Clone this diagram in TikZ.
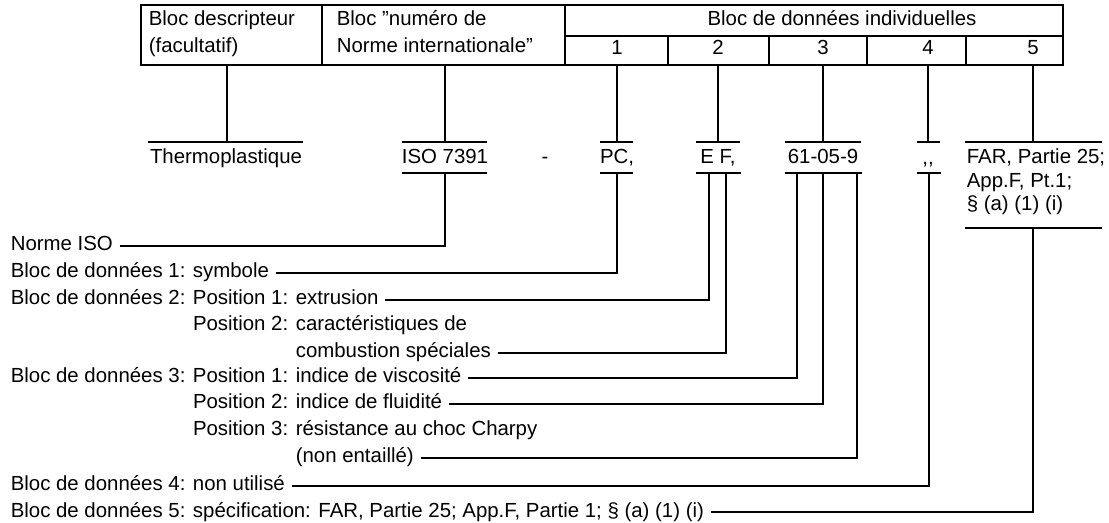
\documentclass[tikz,border=0pt]{standalone}
\usepackage{fontspec}
\setmainfont{Liberation Sans}
\usetikzlibrary{positioning, calc}

\begin{document}
\begin{tikzpicture}[
    x=0.5pt, y=-0.5pt,
    txt/.style={inner sep=0pt, text height=7pt, text depth=2pt,
                font=\fontsize{10.2}{11.5}\selectfont},
    lbl/.style={txt, anchor=west},
    farbox/.style={inner sep=0pt, anchor=north west, align=left,
                   font=\fontsize{10.2}{11.8}\selectfont},
    bar/.style={line width=0.9pt},
    line width=0.8pt,
]
\useasboundingbox (0,0) rectangle (1109,523);

% =================================================================
%  TABLE OF BLOCKS
% =================================================================
\draw (141,5) rectangle (1063,65);
\draw (322,5) -- (322,65);
\draw (565,5) -- (565,65);
\draw (565,36) -- (1063,36);
\foreach \cx in {668,769,867,966}
    \draw (\cx,36) -- (\cx,65);
\coordinate (tb) at (0,65);

\node[lbl] (desc1) at (148,21) {Bloc descripteur};
\node[lbl] (desc2) at (148,48) {(facultatif)};
\node[lbl] (std1)  at (336,21) {Bloc "numéro de};
\node[lbl] (std2)  at (336,48) {Norme internationale"};
\node[txt] (indiv) at (842,21) {Bloc de données individuelles};
\foreach \i/\cx in {1/617, 2/718, 3/823, 4/928, 5/1033}
    \node[txt] (n\i) at (\cx,50) {\i};

\coordinate (cDesc) at (227,65);
\coordinate (cStd)  at (445,65);

% =================================================================
%  DESIGNATION  (y = 158)
% =================================================================
\node[txt] (thermo) at (226,159) {Thermoplastique};
\node[txt] (iso)    at (445,159) {ISO 7391};
\node[txt] (dash)   at (545,159) {-};
\node[txt] (pc)     at (617,159) {PC,};
\node[txt] (ef)     at (718,159) {E F,};
\node[txt] (code)   at (823,159) {61-05-9};
\node[txt] (unused) at (928,160) {,{},};
\node[farbox] (far) at (966,148) {FAR, Partie 25;\\App.F, Pt.1;\\§ (a) (1) (i)};

% bars over and under the values
\foreach \xa/\xb in {148/303, 402/487, 600/633, 696/740, 785/861, 917/940, 965/1102}
    \draw[bar] (\xa,142) -- (\xb,142);
\foreach \xa/\xb in {402/487, 600/633, 696/741, 785/862, 917/941}
    \draw[bar] (\xa,173) -- (\xb,173);
\draw[bar] (965,228) -- (1102,228);

\coordinate (tThermo) at (227,142);
\coordinate (tStd)    at (445,142);
\foreach \i/\cx in {1/617, 2/718, 3/823, 4/928, 5/1033}
    \coordinate (t\i) at (\cx,142);

\draw (cDesc) -- (tThermo);
\draw (cStd)  -- (tStd);
\foreach \i in {1,...,5}
    \draw (n\i |- tb) -- (t\i);

% =================================================================
%  EXPLANATIONS
% =================================================================
\coordinate (bStd) at (445,173);
\coordinate (b1)   at (617,173);
\coordinate (b2a)  at (709,173);
\coordinate (b2b)  at (726,173);
\coordinate (b3a)  at (797,173);
\coordinate (b3b)  at (823,173);
\coordinate (b3c)  at (857,173);
\coordinate (b4)   at (929,173);
\coordinate (b5)   at (1033,228);

\node[lbl] (lStd) at (10,246) {Norme ISO};
\node[lbl] (l1)   at (10,273) {Bloc de données 1: symbole};
\node[lbl] (l2a)  at (10,300) {Bloc de données 2: Position 1: extrusion};
\node[lbl] (l2b)  at (10,326) {\phantom{Bloc de données 2: }Position 2: caractéristiques de};
\node[lbl] (l2c)  at (10,353) {\phantom{Bloc de données 2: Position 2: }combustion spéciales};
\node[lbl] (l3a)  at (10,378) {Bloc de données 3: Position 1: indice de viscosité};
\node[lbl] (l3b)  at (10,404) {\phantom{Bloc de données 3: }Position 2: indice de fluidité};
\node[lbl] (l3c)  at (10,431) {\phantom{Bloc de données 3: }Position 3: résistance au choc Charpy};
\node[lbl] (l3d)  at (10,458) {\phantom{Bloc de données 3: Position 3: }(non entaillé)};
\node[lbl] (l4)   at (10,486) {Bloc de données 4: non utilisé};
\node[lbl] (l5)   at (10,512) {Bloc de données 5: spécification: FAR, Partie 25; App.F, Partie 1; § (a) (1) (i)};

\draw ([xshift=3pt]lStd.east) -| (bStd);
\draw ([xshift=3pt]l1.east)   -| (b1);
\draw ([xshift=3pt]l2a.east)  -| (b2a);
\draw ([xshift=3pt]l2c.east)  -| (b2b);
\draw ([xshift=3pt]l3a.east)  -| (b3a);
\draw ([xshift=3pt]l3b.east)  -| (b3b);
\draw ([xshift=3pt]l3d.east)  -| (b3c);
\draw ([xshift=3pt]l4.east)   -| (b4);
\draw ([xshift=3pt]l5.east)   -| (b5);

\end{tikzpicture}
\end{document}
